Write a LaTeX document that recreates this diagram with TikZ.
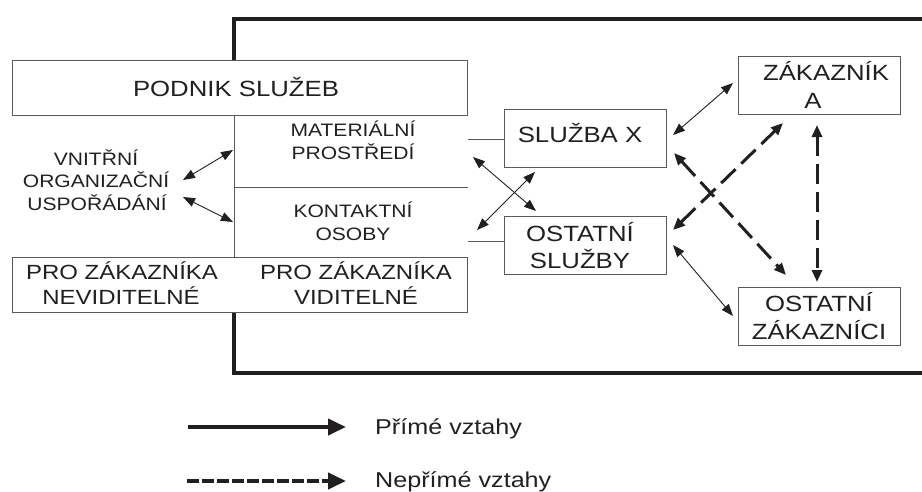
\documentclass[tikz,border=0pt]{standalone}
\usepackage{fontspec}
\setmainfont{Liberation Sans}[FakeStretch=1.17]
\usetikzlibrary{arrows.meta}

\definecolor{ink}{HTML}{231F20}
\definecolor{rulegray}{HTML}{5A5A5A}

\tikzset{
  boxnode/.style={draw=rulegray, line width=1pt, fill=white, inner sep=0pt,
                  minimum width=162pt, minimum height=58pt},
  widebox/.style={draw=rulegray, line width=1pt, fill=white, inner sep=0pt,
                  minimum width=455pt, minimum height=55pt},
  lbl/.style={anchor=base, inner sep=0pt, text=ink},
  fs18/.style={font=\fontsize{18}{22}\selectfont},
  fs20/.style={font=\fontsize{20.5}{24}\selectfont},
  fs22/.style={font=\fontsize{22}{26}\selectfont},
  fsleg/.style={font=\fontsize{21.5}{26}\selectfont},
  frameline/.style={draw=ink, line width=4pt, line join=miter},
  divider/.style={draw=rulegray, line width=1pt},
  direct/.style={draw=ink, line width=0.9pt,
                 {Triangle[length=12pt,width=9pt]}-{Triangle[length=12pt,width=9pt]}},
  indirect/.style={draw=ink, line width=3pt, dash pattern=on 20pt off 8pt,
                 {Triangle[length=12pt,width=10pt]}-{Triangle[length=12pt,width=10pt]}},
  legdirect/.style={draw=ink, line width=4pt, -{Triangle[length=18pt,width=16pt]}},
  legindirect/.style={draw=ink, line width=4pt, dash pattern=on 12pt off 3pt,
                 -{Triangle[length=18pt,width=16pt]}},
}

\begin{document}
\begin{tikzpicture}[x=1pt, y=-1pt]
\useasboundingbox (0,0) rectangle (922,491);

% thick outline of the service system
\draw[frameline] (930,18.7) -- (234,18.7) -- (234,70);
\draw[frameline] (234,300) -- (234,373) -- (930,373);

% boxes
\node[widebox] (podnik) at (240.4,87.5) {};
\node[widebox] (bottom) at (240.4,284.5) {};
\node[boxnode] (sx) at (585,138) {};
\node[boxnode] (os) at (585,245) {};
\node[boxnode] (za) at (819,85) {};
\node[boxnode] (oz) at (819,316) {};

% inner divisions
\coordinate (split) at (234,0);
\draw[divider] (podnik.south -| split) -- (bottom.north -| split);
\draw[divider] (234,187) -- (podnik.east |- 0,187);
\draw[divider] (podnik.east |- 0,139) -- (sx.west |- 0,139);
\draw[divider] (podnik.east |- 0,241) -- (os.west |- 0,241);

% texts
\node[lbl,fs22] (tpodnik) at (236,96.9) {PODNIK SLUŽEB};
\node[lbl,fs18] (tvn1) at (96,165.4) {VNITŘNÍ};
\node[lbl,fs18] (tvn2) at (96,187.9) {ORGANIZAČNÍ};
\node[lbl,fs18] (tvn3) at (97,210.4) {USPOŘÁDÁNÍ};
\node[lbl,fs18] (tmat1) at (353,136.4) {MATERIÁLNÍ};
\node[lbl,fs18] (tmat2) at (353,159) {PROSTŘEDÍ};
\node[lbl,fs18] (tkon1) at (353,217.4) {KONTAKTNÍ};
\node[lbl,fs18] (tkon2) at (353,240.4) {OSOBY};
\node[lbl,fs20] (tnev1) at (122,279.3) {PRO ZÁKAZNÍKA};
\node[lbl,fs20] (tnev2) at (121,304) {NEVIDITELNÉ};
\node[lbl,fs20] (tvid1) at (356,279.3) {PRO ZÁKAZNÍKA};
\node[lbl,fs20] (tvid2) at (356,304) {VIDITELNÉ};
\node[lbl,fs22] (tsx) at (580,142) {SLUŽBA X};
\node[lbl,fs22] (tos1) at (580,241.7) {OSTATNÍ};
\node[lbl,fs22] (tos2) at (580,268.3) {SLUŽBY};
\node[lbl,fs22] (tza1) at (826,80.7) {ZÁKAZNÍK};
\node[lbl,fs22] (tza2) at (813,108.3) {A};
\node[lbl,fs22] (toz1) at (819,311.7) {OSTATNÍ};
\node[lbl,fs22] (toz2) at (819,339) {ZÁKAZNÍCI};

% arrow end points
\coordinate (vnA) at (183,180);
\coordinate (matL) at (233,150);
\coordinate (vnB) at (183,197);
\coordinate (konL) at (233,222);
\coordinate (matR) at (473,157);
\coordinate (osNW) at (536,211);
\coordinate (konR) at (477,230);
\coordinate (sxSW) at (535,172);
\coordinate (sxE1) at (673,135);
\coordinate (zaW) at (733,83);
\coordinate (osE1) at (673,245);
\coordinate (ozW) at (733,316);
\coordinate (sxE2) at (674,153);
\coordinate (ozNW) at (786,275);
\coordinate (osE2) at (673,230);
\coordinate (zaSW) at (783,123);
\coordinate (zaS) at (817,125);
\coordinate (ozN) at (817,282);

% direct relations
\draw[direct] (vnA) -- (matL);
\draw[direct] (vnB) -- (konL);
\draw[direct] (matR) -- (osNW);
\draw[direct] (konR) -- (sxSW);
\draw[direct] (sxE1) -- (zaW);
\draw[direct] (osE1) -- (ozW);

% indirect relations
\draw[indirect] (sxE2) -- (ozNW);
\draw[indirect] (osE2) -- (zaSW);
\draw[indirect] (zaS) -- (ozN);

% legend
\coordinate (leg1a) at (188,427);
\coordinate (leg1b) at (346,427);
\coordinate (leg2a) at (187,481);
\coordinate (leg2b) at (346,481);
\draw[legdirect] (leg1a) -- (leg1b);
\draw[legindirect] (leg2a) -- (leg2b);
\node[lbl,fsleg,anchor=base west] (legt1) at (375,434) {Přímé vztahy};
\node[lbl,fsleg,anchor=base west] (legt2) at (375,487) {Nepřímé vztahy};
\end{tikzpicture}
\end{document}
